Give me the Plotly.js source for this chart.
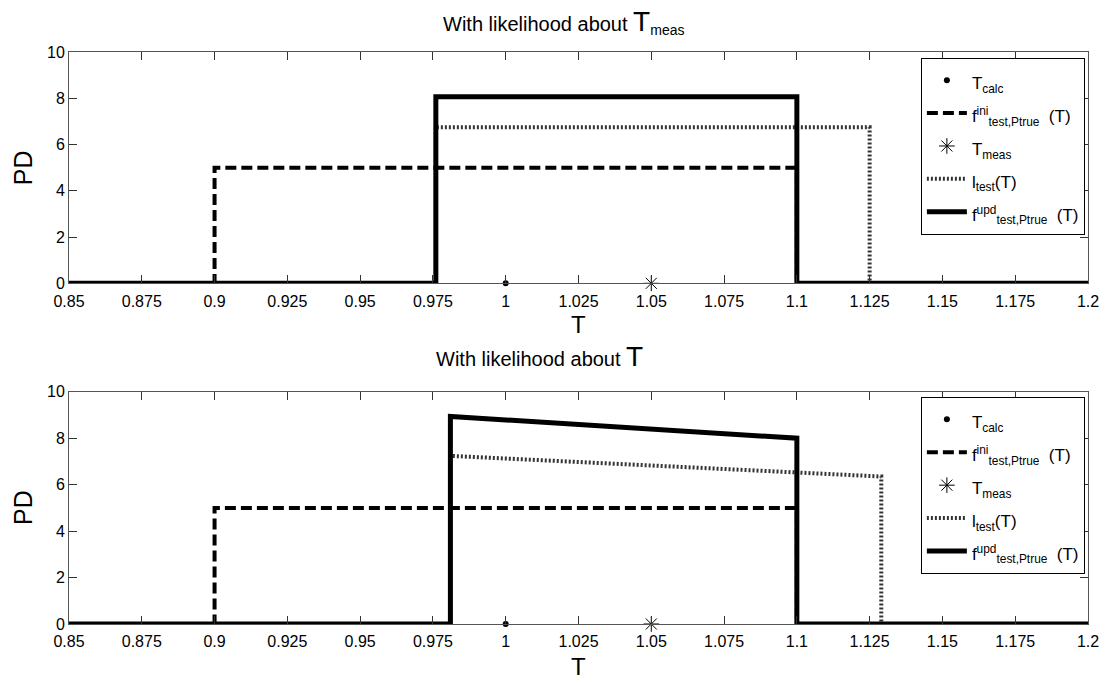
<!DOCTYPE html>
<html>
<head>
<meta charset="utf-8">
<script src="https://cdn.plot.ly/plotly-3.0.1.min.js"></script>
<style>html,body{margin:0;padding:0;background:#fff;}#chart{width:1108px;height:683px;}</style>
</head>
<body>
<div id="chart"></div>
<script>
// ---- data ----
var tCalc = [1.0];
var pdCalc = [0];
var tMeas = [1.05];
var pdMeas = [0];

// top panel: likelihood about T_meas
var tIniTop  = [0.85, 0.9, 0.9, 1.1, 1.1, 1.2];
var pdIniTop = [0, 0, 5, 5, 0, 0];
var tLikTop  = [0.85, 0.976, 0.976, 1.125, 1.125, 1.2];
var pdLikTop = [0, 0, 6.75, 6.75, 0, 0];
var tUpdTop  = [0.85, 0.976, 0.976, 1.1, 1.1, 1.2];
var pdUpdTop = [0, 0, 8.07, 8.07, 0, 0];

// bottom panel: likelihood about T
var tIniBot  = [0.85, 0.9, 0.9, 1.1, 1.1, 1.2];
var pdIniBot = [0, 0, 5, 5, 0, 0];
var tLikBot  = [0.85, 0.981, 0.981, 1.129, 1.129, 1.2];
var pdLikBot = [0, 0, 7.24, 6.35, 0, 0];
var tUpdBot  = [0.85, 0.981, 0.981, 1.1, 1.1, 1.2];
var pdUpdBot = [0, 0, 8.94, 8.0, 0, 0];

var xTicks = [0.85, 0.875, 0.9, 0.925, 0.95, 0.975, 1, 1.025, 1.05, 1.075, 1.1, 1.125, 1.15, 1.175, 1.2];
var xTickText = ['0.85','0.875','0.9','0.925','0.95','0.975','1','1.025','1.05','1.075','1.1','1.125','1.15','1.175','1.2'];
var yTicks = [0, 2, 4, 6, 8, 10];

function lg(s) { return '<span style="font-size:17px">' + s + '</span>'; }
var names = {
  calc: lg('T<sub>calc</sub>'),
  ini: lg('f<sup>ini</sup><sub>test,Ptrue</sub>  (T)'),
  meas: lg('T<sub>meas</sub>'),
  lik: lg('l<sub>test</sub>(T)'),
  upd: lg('f<sup>upd</sup><sub>test,Ptrue</sub>  (T)')
};

function panel(xa, ya, leg, tIni, pIni, tLik, pLik, tUpd, pUpd) {
  return [
    {x: tCalc, y: pdCalc, xaxis: xa, yaxis: ya, legend: leg, name: names.calc, mode: 'markers', cliponaxis: false,
     marker: {symbol: 'circle', size: 6, color: '#000'}},
    {x: tIni, y: pIni, xaxis: xa, yaxis: ya, legend: leg, name: names.ini, mode: 'lines',
     line: {color: '#000', width: 4, dash: '11px,5px'}},
    {x: tMeas, y: pdMeas, xaxis: xa, yaxis: ya, legend: leg, name: names.meas, mode: 'markers', cliponaxis: false,
     marker: {symbol: 'asterisk-open', size: 13, color: '#000', line: {color: '#000', width: 1}}},
    {x: tLik, y: pLik, xaxis: xa, yaxis: ya, legend: leg, name: names.lik, mode: 'lines',
     line: {color: '#333', width: 4, dash: '2px,2px'}},
    {x: tUpd, y: pUpd, xaxis: xa, yaxis: ya, legend: leg, name: names.upd, mode: 'lines',
     line: {color: '#000', width: 5}}
  ];
}

var data = panel('x', 'y', 'legend', tIniTop, pdIniTop, tLikTop, pdLikTop, tUpdTop, pdUpdTop)
  .concat(panel('x2', 'y2', 'legend2', tIniBot, pdIniBot, tLikBot, pdLikBot, tUpdBot, pdUpdBot));

var font = {family: 'Liberation Sans, Arial, sans-serif', color: '#000'};

function xAxis(anchor) {
  return {domain: [0, 1], anchor: anchor, range: [0.85, 1.2], tickvals: xTicks, ticktext: xTickText,
    ticks: 'inside', ticklen: 8, tickcolor: '#333', mirror: 'ticks', showline: true, linecolor: '#555', linewidth: 1,
    ticklabelstandoff: 3,
    showgrid: false, zeroline: false, tickfont: {family: font.family, size: 16, color: '#000'}};
}
function yAxis(dom, anchor) {
  return {domain: dom, anchor: anchor, range: [0, 10], tickvals: yTicks,
    ticks: 'inside', ticklen: 8, tickcolor: '#333', mirror: 'ticks', showline: true, linecolor: '#555', linewidth: 1,
    showgrid: false, zeroline: false, tickfont: {family: font.family, size: 16, color: '#000'}};
}

var legendStyle = function (ytop) {
  return {x: 0.836, y: ytop, xanchor: 'left', yanchor: 'top', bgcolor: '#fff', bordercolor: '#000', borderwidth: 1,
    font: {family: font.family, size: 23, color: '#000'}, tracegroupgap: 0, itemwidth: 40};
};

var layout = {
  width: 1108, height: 683,
  margin: {l: 69, r: 20, t: 52, b: 59},
  paper_bgcolor: '#fff', plot_bgcolor: '#fff',
  font: font,
  showlegend: true,
  xaxis: xAxis('y'),
  yaxis: yAxis([0.5956, 1], 'x'),
  xaxis2: xAxis('y2'),
  yaxis2: yAxis([0, 0.406], 'x2'),
  legend: legendStyle(0.99),
  legend2: legendStyle(0.397),
  annotations: [
    {xref: 'paper', yref: 'paper', x: 0.485, y: 1.052, xanchor: 'center', yanchor: 'middle', showarrow: false,
     text: 'With likelihood about <span style="font-size:28px">T</span><sub>meas</sub>', font: {family: font.family, size: 20, color: '#000'}},
    {xref: 'paper', yref: 'paper', x: 0.462, y: 0.468, xanchor: 'center', yanchor: 'middle', showarrow: false,
     text: 'With likelihood about <span style="font-size:28px">T</span>', font: {family: font.family, size: 20, color: '#000'}},
    {xref: 'paper', yref: 'paper', x: 0.5, y: 0.523, xanchor: 'center', yanchor: 'middle', showarrow: false,
     text: 'T', font: {family: font.family, size: 24, color: '#000'}},
    {xref: 'paper', yref: 'paper', x: 0.5, y: -0.075, xanchor: 'center', yanchor: 'middle', showarrow: false,
     text: 'T', font: {family: font.family, size: 24, color: '#000'}},
    {xref: 'paper', yref: 'paper', x: -0.045, y: 0.797, xanchor: 'center', yanchor: 'middle', showarrow: false, textangle: -90,
     text: 'PD', font: {family: font.family, size: 25, color: '#000'}},
    {xref: 'paper', yref: 'paper', x: -0.045, y: 0.203, xanchor: 'center', yanchor: 'middle', showarrow: false, textangle: -90,
     text: 'PD', font: {family: font.family, size: 25, color: '#000'}}
  ]
};

Plotly.newPlot('chart', data, layout, {displayModeBar: false, staticPlot: true});
</script>
</body>
</html>
